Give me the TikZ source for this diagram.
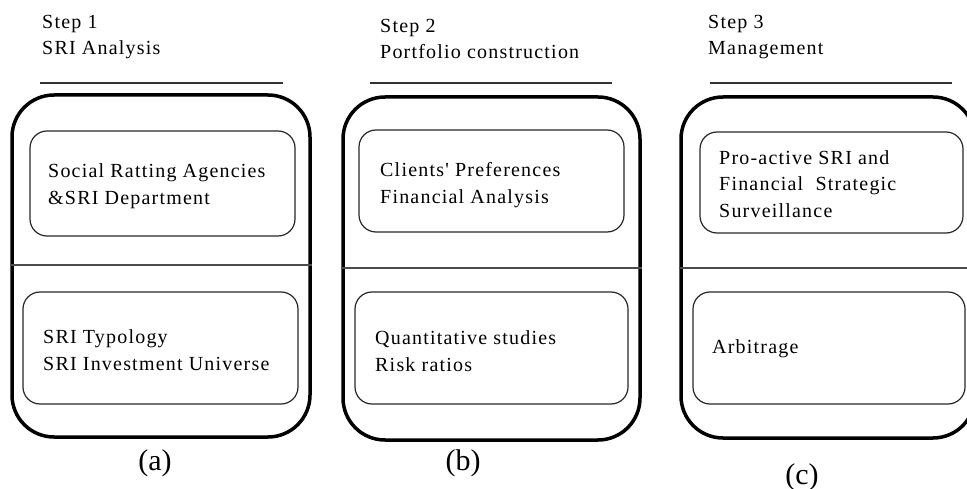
\documentclass[tikz,border=0pt]{standalone}
\usepackage{fontspec}
\setmainfont{Liberation Serif}
\newfontfamily\boxfont[LetterSpace=6]{Liberation Serif}
\begin{document}
\begin{tikzpicture}[x=1pt,y=-1pt,
  outerbox/.style={draw=black, line width=3.5pt, rounded corners=42pt, inner sep=0pt},
  innerbox/.style={draw=black!85, line width=1.2pt, rounded corners=17pt, inner sep=0pt},
  sepline/.style={draw=black!70, line width=1.3pt},
  headline/.style={draw=black!80, line width=1.3pt},
  txt/.style={anchor=west, align=left, inner sep=0pt, text=black,
    font=\boxfont\fontsize{20}{26.5}\selectfont},
  lbl/.style={font=\fontsize{30}{32}\selectfont, inner sep=0pt}]
\useasboundingbox (0,0) rectangle (967,489);
\clip (0,0) rectangle (967,489);
% outer boxes
\node[outerbox, minimum width=298pt, minimum height=342pt] (outa) at (161,266) {};
\node[outerbox, minimum width=297pt, minimum height=343pt] (outb) at (491.5,268.5) {};
\node[outerbox, minimum width=294pt, minimum height=341pt] (outc) at (828,267.5) {};
% inner boxes
\node[innerbox, minimum width=265pt, minimum height=105pt] (ita) at (162.5,183.5) {};
\node[innerbox, minimum width=275pt, minimum height=112pt] (iba) at (160.5,348) {};
\node[innerbox, minimum width=265pt, minimum height=102pt] (itb) at (491.5,181) {};
\node[innerbox, minimum width=273pt, minimum height=112pt] (ibb) at (491.5,348) {};
\node[innerbox, minimum width=263pt, minimum height=101pt] (itc) at (831.5,182.5) {};
\node[innerbox, minimum width=272pt, minimum height=112pt] (ibc) at (829,348) {};
% separators
\coordinate (sa) at (0,265);
\coordinate (sb) at (0,268);
\coordinate (sc) at (0,268);
\coordinate (sce) at (967,268);
\draw[sepline] (outa.west |- sa) -- (outa.east |- sa);
\draw[sepline] (outb.west |- sb) -- (outb.east |- sb);
\draw[sepline] (outc.west |- sc) -- (sce);
% header lines
\coordinate (hla) at (40,83);  \coordinate (hra) at (283,83);
\coordinate (hlb) at (370,83); \coordinate (hrb) at (612,83);
\coordinate (hlc) at (710,83); \coordinate (hrc) at (952,83);
\draw[headline] (hla) -- (hra);
\draw[headline] (hlb) -- (hrb);
\draw[headline] (hlc) -- (hrc);
% step titles
\node[txt] (s1) at (42,37) {Step 1\\SRI Analysis};
\node[txt] (s2) at (380,39) {Step 2\\Portfolio construction};
\node[txt] (s3) at (708,37) {Step 3\\Management};
% box texts
\node[txt] (ta1) at (48,186) {Social Ratting Agencies\\\&SRI Department};
\node[txt] (ta2) at (43,350) {SRI Typology\\SRI Investment Universe};
\node[txt] (tb1) at (380,185) {Clients' Preferences\\Financial Analysis};
\node[txt] (tb2) at (375,351) {Quantitative studies\\Risk ratios};
\node[txt] (tc1) at (719,184) {Pro-active SRI and\\Financial\ \ Strategic\\Surveillance};
\node[txt] (tc2) at (712,349) {Arbitrage};
% labels
\node[lbl] (la) at (155,463) {(a)};
\node[lbl] (lb) at (463,463) {(b)};
\node[lbl] (lc) at (802,477) {(c)};
\end{tikzpicture}
\end{document}
